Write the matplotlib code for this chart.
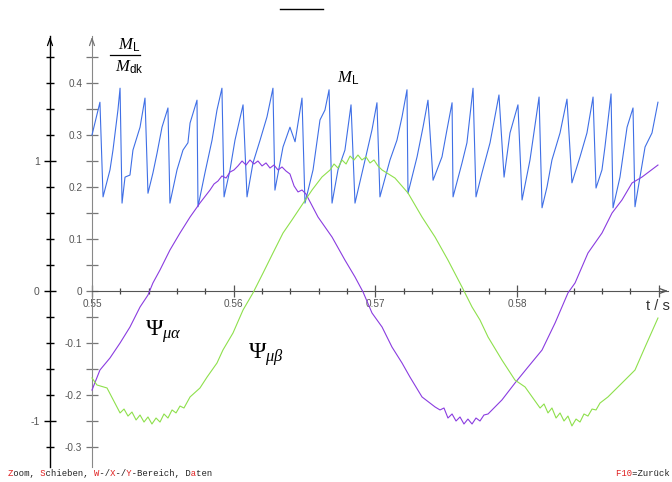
import matplotlib
matplotlib.use('Agg')
import matplotlib.pyplot as plt
from matplotlib.lines import Line2D
from matplotlib.ticker import FixedLocator, FixedFormatter, NullFormatter

# ---------------- data ----------------
# M_L / M_dk  (inner axis)
ml_t = [0.55000, 0.55056, 0.55078, 0.55127, 0.55148, 0.55183, 0.55198, 0.55212, 0.55233, 0.55268,
        0.55289, 0.55339, 0.55374, 0.55395, 0.55430, 0.55459, 0.55494, 0.55536, 0.55550, 0.55600,
        0.55642, 0.55677, 0.55692, 0.55741, 0.55748, 0.55797, 0.55847, 0.55882, 0.55917, 0.55932,
        0.55974, 0.56009, 0.56066, 0.56094, 0.56136, 0.56186, 0.56235, 0.56277, 0.56291, 0.56348,
        0.56397, 0.56433, 0.56482, 0.56503, 0.56560, 0.56609, 0.56644, 0.56673, 0.56694, 0.56736,
        0.56785, 0.56828, 0.56856, 0.56927, 0.56976, 0.57011, 0.57032, 0.57103, 0.57152, 0.57188,
        0.57223, 0.57230, 0.57294, 0.57336, 0.57371, 0.57407, 0.57470, 0.57505, 0.57541, 0.57548,
        0.57611, 0.57646, 0.57689, 0.57710, 0.57752, 0.57809, 0.57872, 0.57908, 0.57950, 0.58006,
        0.58035, 0.58091, 0.58155, 0.58176, 0.58211, 0.58246, 0.58303, 0.58352, 0.58387, 0.58444,
        0.58493, 0.58536, 0.58557, 0.58599, 0.58620, 0.58663, 0.58677, 0.58726, 0.58776, 0.58818,
        0.58832, 0.58903, 0.58952, 0.58994]
ml_v = [0.300, 0.363, 0.181, 0.233, 0.271, 0.348, 0.390, 0.169, 0.219, 0.223,
        0.271, 0.315, 0.371, 0.188, 0.227, 0.265, 0.315, 0.352, 0.169, 0.233,
        0.271, 0.285, 0.323, 0.367, 0.162, 0.227, 0.290, 0.348, 0.390, 0.181,
        0.233, 0.290, 0.358, 0.181, 0.246, 0.290, 0.335, 0.390, 0.194, 0.277,
        0.315, 0.287, 0.371, 0.169, 0.233, 0.329, 0.348, 0.387, 0.169, 0.233,
        0.271, 0.358, 0.169, 0.252, 0.310, 0.362, 0.181, 0.252, 0.290, 0.335,
        0.387, 0.188, 0.258, 0.315, 0.367, 0.213, 0.258, 0.310, 0.362, 0.181,
        0.246, 0.285, 0.390, 0.181, 0.227, 0.285, 0.377, 0.219, 0.304, 0.358,
        0.175, 0.252, 0.373, 0.160, 0.200, 0.252, 0.304, 0.369, 0.208, 0.258,
        0.304, 0.373, 0.198, 0.233, 0.277, 0.379, 0.160, 0.219, 0.315, 0.352,
        0.162, 0.277, 0.304, 0.363]

# Psi_mu_alpha (outer axis)
psa_t = [0.55000, 0.55056, 0.55127, 0.55198, 0.55268, 0.55339, 0.55395, 0.55430, 0.55480, 0.55550,
         0.55621, 0.55692, 0.55762,
         0.55833, 0.55861, 0.55889, 0.55917, 0.55946, 0.55974, 0.56002, 0.56030, 0.56059, 0.56087,
         0.56115, 0.56143, 0.56171, 0.56200, 0.56228, 0.56256, 0.56284, 0.56313, 0.56341, 0.56369,
         0.56397, 0.56426, 0.56454, 0.56482, 0.56510,
         0.56595, 0.56694, 0.56785, 0.56856, 0.56913, 0.56976, 0.57047, 0.57117,
         0.57188, 0.57244, 0.57329,
         0.57421, 0.57456, 0.57484, 0.57512, 0.57541, 0.57569, 0.57597, 0.57625, 0.57653, 0.57682,
         0.57710, 0.57738, 0.57766, 0.57795,
         0.57893, 0.57985, 0.58077, 0.58176, 0.58268, 0.58359, 0.58409, 0.58500, 0.58599, 0.58670,
         0.58740, 0.58811, 0.58882, 0.58994]
psa_v = [-0.762, -0.608, -0.515, -0.400, -0.277, -0.123, -0.031, 0.062, 0.162, 0.315,
         0.446, 0.569, 0.677,
         0.777, 0.823, 0.846, 0.885, 0.869, 0.915, 0.931, 0.962, 1.000, 0.969,
         1.008, 0.977, 1.000, 0.962, 0.985, 0.946, 0.969, 0.931, 0.954, 0.923,
         0.900, 0.808, 0.762, 0.777, 0.746,
         0.569, 0.415, 0.238, 0.108, -0.008, -0.169, -0.277, -0.431,
         -0.554, -0.662, -0.815,
         -0.892, -0.915, -0.900, -0.977, -0.946, -1.000, -0.969, -1.023, -0.985, -1.023,
         -0.977, -1.000, -0.954, -0.946,
         -0.838, -0.708, -0.585, -0.454, -0.246, -0.015, 0.062, 0.292, 0.446, 0.600,
         0.700, 0.831, 0.877, 0.969]

# Psi_mu_beta (outer axis)
psb_t = [0.55000, 0.55035, 0.55106,
         0.55198, 0.55226, 0.55254, 0.55282, 0.55311, 0.55339, 0.55367, 0.55395, 0.55423, 0.55452,
         0.55480, 0.55508, 0.55536, 0.55565, 0.55593, 0.55621, 0.55649,
         0.55692, 0.55762, 0.55812, 0.55882, 0.55924, 0.55995, 0.56066, 0.56136, 0.56207, 0.56277,
         0.56348, 0.56411, 0.56482, 0.56553, 0.56623,
         0.56680, 0.56708, 0.56736, 0.56764, 0.56793, 0.56821, 0.56849, 0.56877, 0.56905, 0.56934,
         0.56962, 0.56990, 0.57018, 0.57047,
         0.57138, 0.57230, 0.57329, 0.57421, 0.57512, 0.57611, 0.57682, 0.57738, 0.57795, 0.57893,
         0.57985, 0.58056,
         0.58162, 0.58190, 0.58218, 0.58246, 0.58275, 0.58303, 0.58331, 0.58359, 0.58387, 0.58416,
         0.58444, 0.58472, 0.58500, 0.58529, 0.58557, 0.58585,
         0.58641, 0.58740, 0.58832, 0.58903, 0.58994]
psb_v = [-0.669, -0.723, -0.746,
         -0.938, -0.908, -0.962, -0.931, -0.992, -0.954, -1.008, -0.969, -1.023, -0.977,
         -1.008, -0.946, -0.977, -0.915, -0.938, -0.885, -0.900,
         -0.815, -0.746, -0.662, -0.554, -0.454, -0.323, -0.146, -0.015, 0.138, 0.292,
         0.446, 0.546, 0.662, 0.777, 0.877,
         0.931, 0.977, 0.946, 1.008, 0.977, 1.038, 1.008, 1.046, 1.008, 1.031,
         0.985, 1.008, 0.962, 0.931,
         0.869, 0.754, 0.569, 0.415, 0.238, 0.031, -0.123, -0.223, -0.354, -0.531,
         -0.685, -0.738,
         -0.900, -0.869, -0.938, -0.900, -0.977, -0.938, -1.000, -0.962, -1.038, -0.985,
         -1.008, -0.946, -0.962, -0.908, -0.915, -0.862,
         -0.815, -0.708, -0.608, -0.431, -0.208]

x_ticks = [0.55, 0.56, 0.57, 0.58, 0.59]
x_tick_labels = ['0.55', '0.56', '0.57', '0.58', '']
x_minor = [0.552, 0.554, 0.556, 0.558, 0.562, 0.564, 0.566, 0.568, 0.572, 0.574, 0.576, 0.578,
           0.582, 0.584, 0.586, 0.588]
inner_ticks = [0.4, 0.3, 0.2, 0.1, 0.0, -0.1, -0.2, -0.3]
inner_labels = ['0.4', '0.3', '0.2', '0.1', '0', '-0.1', '-0.2', '-0.3']
inner_minor = [0.45, 0.35, 0.25, 0.15, 0.05, -0.05, -0.15, -0.25]
outer_ticks = [1, 0, -1]
outer_labels = ['1', '0', '-1']
outer_minor = [1.8, 1.6, 1.4, 1.2, 0.8, 0.6, 0.4, 0.2, -0.2, -0.4, -0.6, -0.8, -1.2]

# ---------------- layout ----------------
W, H = 672, 482
plt.rcParams['font.family'] = ['Liberation Sans', 'DejaVu Sans']
plt.rcParams['mathtext.fontset'] = 'custom'
plt.rcParams['mathtext.rm'] = 'Liberation Serif'
plt.rcParams['mathtext.it'] = 'Liberation Serif:italic'
plt.rcParams['mathtext.sf'] = 'Liberation Sans'

X0, SX = 92, 14170.0     # pixel of t=0.55, px per second
Y0, SI = 291, 520.0      # pixel of zero, px per inner unit
SO = SI / 4.0            # px per outer unit

def fx(x):
    return x / W

def fy(y):
    return 1 - y / H

fig = plt.figure(figsize=(W / 100, H / 100), dpi=100)
xlim = (0.55 - X0 / SX, 0.55 + (W - X0) / SX)

ax = fig.add_axes([0, 0, 1, 1])
ax.set_xlim(*xlim)
ax.set_ylim(-(H - Y0) / SI, Y0 / SI)
ax.patch.set_visible(False)

ax2 = fig.add_axes([0, 0, 1, 1])
ax2.set_xlim(*xlim)
ax2.set_ylim(-(H - Y0) / SO, Y0 / SO)
ax2.patch.set_visible(False)

arrow = '->,head_length=0.5,head_width=0.18'

# outer axis (ax2)
for s in ['top', 'right', 'bottom']:
    ax2.spines[s].set_visible(False)
t_outer = 0.55 - (X0 - 50) / SX
ax2.spines['left'].set_position(('data', t_outer))
ax2.spines['left'].set_bounds(-(467 - Y0) / SO, (Y0 - 36) / SO)
ax2.spines['left'].set_color('black')
ax2.spines['left'].set_linewidth(1.0)
ax2.xaxis.set_visible(False)
ax2.yaxis.set_major_locator(FixedLocator(outer_ticks))
ax2.yaxis.set_major_formatter(FixedFormatter(outer_labels))
ax2.yaxis.set_minor_locator(FixedLocator(outer_minor))
ax2.tick_params(axis='y', which='major', direction='inout', length=9, width=1.0,
                colors='black', labelcolor='#555555', labelsize=7.5, pad=3)
ax2.tick_params(axis='y', which='minor', direction='inout', length=6, width=1.0, colors='black')
ax2.annotate('', xy=(t_outer, (Y0 - 34) / SO), xytext=(t_outer, (Y0 - 44) / SO),
             arrowprops=dict(arrowstyle=arrow, lw=0.9, color='black'))

# inner axis (ax)
for s in ['top', 'right']:
    ax.spines[s].set_visible(False)
ax.spines['left'].set_position(('data', 0.55))
ax.spines['left'].set_bounds(-(467 - Y0) / SI, (Y0 - 36) / SI)
ax.spines['left'].set_color('#888888')
ax.spines['bottom'].set_position(('data', 0))
ax.spines['bottom'].set_bounds(0.55, 0.55 + (668 - X0) / SX)
ax.spines['bottom'].set_color('#555555')
ax.annotate('', xy=(0.55, (Y0 - 34) / SI), xytext=(0.55, (Y0 - 44) / SI),
            arrowprops=dict(arrowstyle=arrow, lw=0.9, color='#777777'))
ax.annotate('', xy=(0.55 + (671 - X0) / SX, 0), xytext=(0.55 + (660 - X0) / SX, 0),
            arrowprops=dict(arrowstyle=arrow, lw=0.9, color='#555555'))

ax.xaxis.set_major_locator(FixedLocator(x_ticks))
ax.xaxis.set_major_formatter(FixedFormatter(x_tick_labels))
ax.xaxis.set_minor_locator(FixedLocator(x_minor))
ax.xaxis.set_minor_formatter(NullFormatter())
ax.tick_params(axis='x', which='major', direction='inout', length=9, width=0.9,
               colors='#555555', labelcolor='#555555', labelsize=7.2, pad=1.5)
ax.tick_params(axis='x', which='minor', direction='inout', length=4.5, width=0.9, colors='#444444')

ax.yaxis.set_major_locator(FixedLocator(inner_ticks))
ax.yaxis.set_major_formatter(FixedFormatter(inner_labels))
ax.yaxis.set_minor_locator(FixedLocator(inner_minor))
ax.yaxis.set_minor_formatter(NullFormatter())
ax.tick_params(axis='y', which='major', direction='inout', length=8, width=0.9,
               colors='#777777', labelcolor='#555555', labelsize=7.2, pad=3)
ax.tick_params(axis='y', which='minor', direction='inout', length=8, width=0.9, colors='#777777')

# curves
ax.plot(ml_t, ml_v, color='#3f6fe6', lw=0.8, zorder=3)
ax2.plot(psa_t, psa_v, color='#8a3ce0', lw=0.8, zorder=3)
ax2.plot(psb_t, psb_v, color='#8ee04c', lw=0.8, zorder=3)

# labels
fig.text(fx(129), fy(45), r'$M_{\mathsf{L}}$', ha='center', va='center', fontsize=12, color='black')
fig.add_artist(Line2D([fx(110), fx(140)], [fy(55), fy(55)], color='black', lw=0.9))
fig.text(fx(129), fy(67), r'$M_{\mathsf{dk}}$', ha='center', va='center', fontsize=12, color='black')
fig.text(fx(348), fy(78), r'$M_{\mathsf{L}}$', ha='center', va='center', fontsize=12, color='black')
fig.text(fx(163), fy(332), r'$\Psi_{\mu\alpha}$', ha='center', va='center', fontsize=17, color='black')
fig.text(fx(266), fy(355), r'$\Psi_{\mu\beta}$', ha='center', va='center', fontsize=17, color='black')
fig.text(fx(658), fy(306), 't / s', ha='center', va='center', fontsize=10.5, color='#333333')
fig.add_artist(Line2D([fx(280), fx(323)], [fy(9), fy(9)], color='black', lw=1.0))

# bottom status line (monospace, red hot-keys)
def status(x, y, s, red_idx):
    black = ''.join(' ' if i in red_idx else c for i, c in enumerate(s))
    red = ''.join(c if i in red_idx else ' ' for i, c in enumerate(s))
    kw = dict(ha='left', va='center', fontsize=6.4, family='Liberation Mono')
    fig.text(fx(x), fy(y), black, color='#222222', **kw)
    fig.text(fx(x), fy(y), red, color='#e02020', **kw)

s1 = 'Zoom, Schieben, W-/X-/Y-Bereich, Daten'
status(8, 474, s1, {0, 6, 16, 19, 22, 34})
status(616, 474, 'F10=Zurück', {0, 1, 2})

fig.savefig('out.png', dpi=100)
